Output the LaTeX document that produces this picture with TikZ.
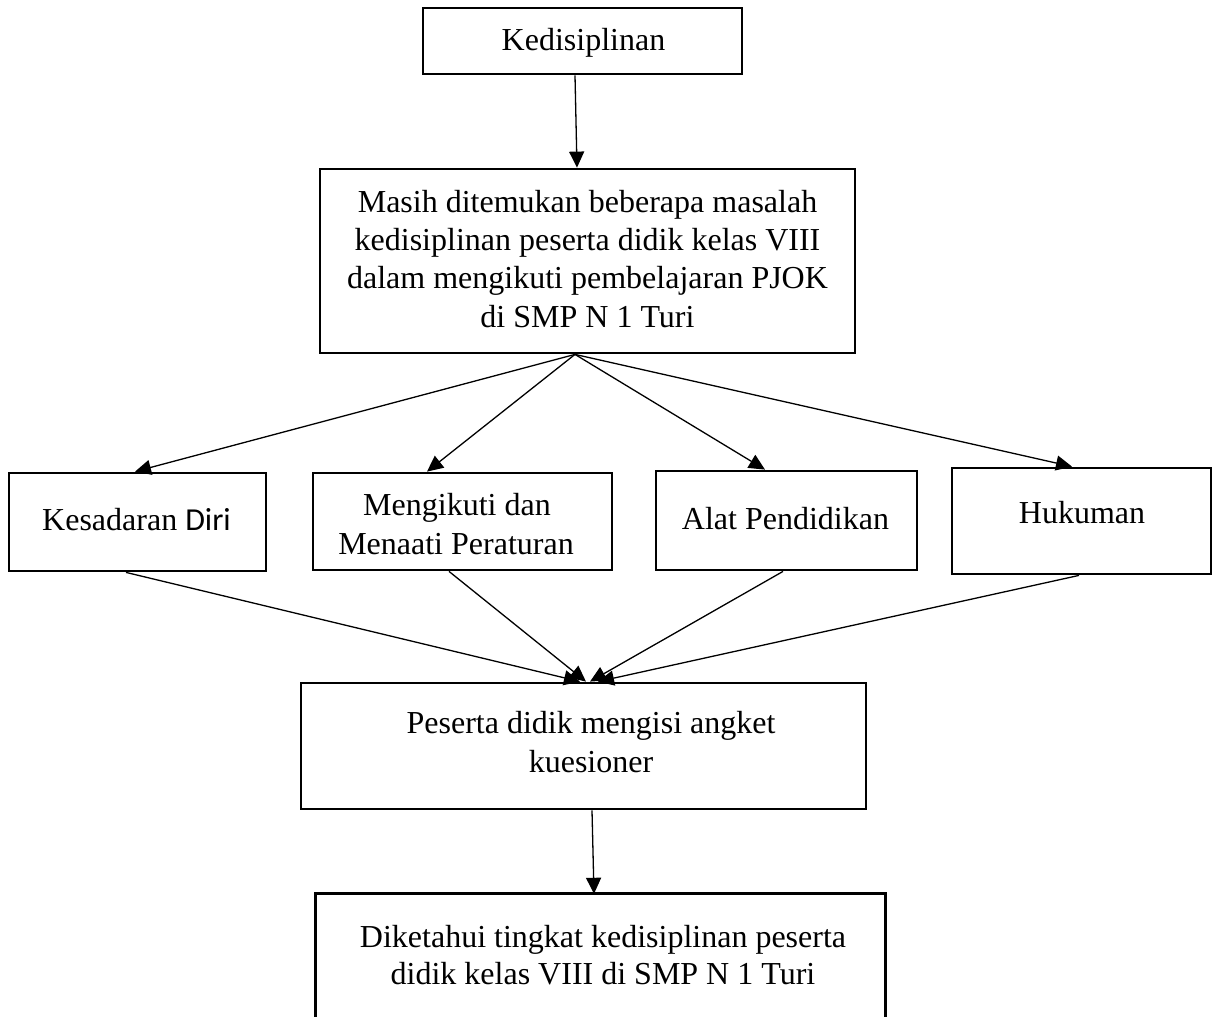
\documentclass[tikz,border=0pt]{standalone}
\usepackage{fontspec}
\setmainfont{Liberation Serif}
\newfontfamily\calfont{Carlito}
\usetikzlibrary{arrows.meta}
\tikzset{
  box/.style={draw, line width=2.8pt, rectangle, inner sep=0pt},
  txt/.style={inner sep=0pt, anchor=base, font=\fontsize{32}{38}\selectfont},
  arr/.style={line width=1.3pt, -{Triangle[length=16pt,width=15pt]}},
}
\begin{document}
\begin{tikzpicture}[x=1pt,y=-1pt]
\useasboundingbox (0,0) rectangle (1213,1017);
% boxes
\node[box, minimum width=319pt, minimum height=66pt] (top) at (582.5,41) {};
\node[box, minimum width=535pt, minimum height=184pt] (mid) at (587.5,261) {};
\node[box, minimum width=257pt, minimum height=98pt] (kes) at (137.5,522) {};
\node[box, minimum width=299pt, minimum height=97pt] (men) at (462.5,521.5) {};
\node[box, minimum width=261pt, minimum height=99pt] (alat) at (786.5,520.5) {};
\node[box, minimum width=259pt, minimum height=106pt] (huk) at (1081.5,521) {};
\node[box, minimum width=565pt, minimum height=126pt] (pes) at (583.5,746) {};
\node[inner sep=0pt, minimum width=569pt, minimum height=133pt] (fin) at (600.5,960.5) {};
\draw[line width=2.8pt] (fin.south west) -- (fin.north west) -- (fin.north east) -- (fin.south east);
% texts
\node[txt] (t1) at (583.5,50) {Kedisiplinan};
\node[txt] (m1) at (587.5,212) {Masih ditemukan beberapa masalah};
\node[txt] (m2) at (587.5,250) {kedisiplinan peserta didik kelas VIII};
\node[txt] (m3) at (587.5,288) {dalam mengikuti pembelajaran PJOK};
\node[txt] (m4) at (587.5,327) {di SMP N 1 Turi};
\node[txt] (k1) at (136.5,530) {Kesadaran {\calfont Diri}};
\node[txt] (g1) at (457,515) {Mengikuti dan};
\node[txt] (g2) at (456,554) {Menaati Peraturan};
\node[txt] (a1) at (785.5,529) {Alat Pendidikan};
\node[txt] (h1) at (1082,523) {Hukuman};
\node[txt] (p1) at (591,733) {Peserta didik mengisi angket};
\node[txt] (p2) at (591,772) {kuesioner};
\node[txt] (f1) at (603,947) {Diketahui tingkat kedisiplinan peserta};
\node[txt] (f2) at (603,984) {didik kelas VIII di SMP N 1 Turi};
% connectors
\draw[arr] ([xshift=-7.5pt]top.south) -- ([xshift=-10.5pt]mid.north);
\draw[arr] ([xshift=-12.5pt]mid.south) -- ([xshift=-2.5pt]kes.north);
\draw[arr] ([xshift=-12.5pt]mid.south) -- ([xshift=-35.5pt]men.north);
\draw[arr] ([xshift=-12.5pt]mid.south) -- ([xshift=-21.5pt]alat.north);
\draw[arr] ([xshift=-12.5pt]mid.south) -- ([xshift=-9.5pt]huk.north);
\draw[arr] ([xshift=-11.5pt]kes.south) -- ([xshift=-3.5pt]pes.north);
\draw[arr] ([xshift=-13.5pt]men.south) -- ([xshift=2.5pt]pes.north);
\draw[arr] ([xshift=-3.5pt]alat.south) -- ([xshift=6.5pt]pes.north);
\draw[arr] ([xshift=-2.5pt]huk.south) -- ([xshift=14.5pt]pes.north);
\draw[arr] ([xshift=8.5pt]pes.south) -- ([xshift=-6.5pt]fin.north);
\end{tikzpicture}
\end{document}
